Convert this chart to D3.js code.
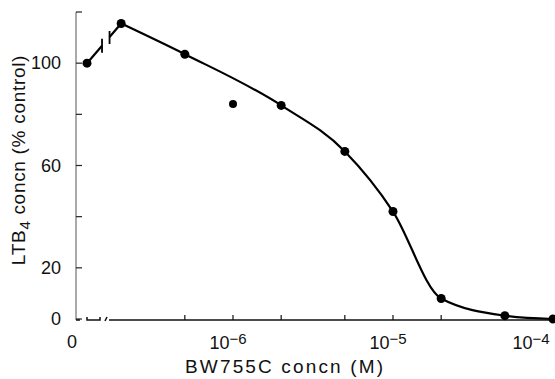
<!DOCTYPE html>
<html>
<head>
<meta charset="utf-8">
<script src="https://cdn.jsdelivr.net/npm/d3@7"></script>
<style>
  html, body { margin: 0; padding: 0; background: #fff; }
  svg { display: block; }
  text { font-family: "Liberation Sans", Arial, sans-serif; fill: #111; }
</style>
</head>
<body>
<div id="chart"></div>
<script>
// BW755C concentration (M), 0 = control
const concentrations = [0, 2e-7, 5e-7, 1e-6, 2e-6, 5e-6, 1e-5, 2e-5, 5e-5, 1e-4];
// LTB4 concentration, % of control
const ltb4Percent = [100, 115.5, 103.5, 84, 83.5, 65.5, 42, 8, 1.3, 0];
// points left off the fitted curve
const offCurve = [1e-6];

const yTicks = [0, 20, 40, 60, 80, 100, 120];
const yTickLabels = [0, 20, 60, 100];
const xTicks = [5e-7, 1e-6, 2e-6, 5e-6, 1e-5, 2e-5, 5e-5, 1e-4];
const xTickLabels = [{ v: 1e-6, exp: "\u22126" }, { v: 1e-5, exp: "\u22125" }, { v: 1e-4, exp: "\u22124" }];

const width = 555, height = 379;
const axisX = 76, axisY = 320, zeroX = 87;

const svg = d3.select("#chart").append("svg")
    .attr("width", width)
    .attr("height", height);

const x = d3.scaleLog().domain([1e-7, 1e-4]).range([73, 553]);
const y = d3.scaleLinear().domain([0, 120]).range([319, 12]);
const xPos = c => (c === 0 ? zeroX : x(c));

const points = concentrations.map((c, i) => ({ c, v: ltb4Percent[i] }));

// y axis
svg.append("line")
    .attr("x1", axisX).attr("x2", axisX)
    .attr("y1", y(120)).attr("y2", axisY)
    .attr("stroke", "#555").attr("stroke-width", 1);

svg.selectAll(".ytick").data(yTicks).enter().append("line")
    .attr("class", "ytick")
    .attr("x1", axisX).attr("x2", axisX + 6)
    .attr("y1", d => y(d)).attr("y2", d => y(d))
    .attr("stroke", "#222").attr("stroke-width", 1.2);

svg.selectAll(".ylabel").data(yTickLabels).enter().append("text")
    .attr("class", "ylabel")
    .attr("x", 61)
    .attr("y", d => y(d) + 6)
    .attr("text-anchor", "end")
    .attr("font-size", 18)
    .text(d => d);

// x axis with break after the control
const xa = svg.append("g").attr("stroke", "#111").attr("stroke-width", 1.5).attr("fill", "none");
xa.append("path").attr("d", `M${axisX},${axisY}H${axisX + 4}`);
xa.append("path").attr("d", `M${zeroX},${axisY - 3}V${axisY}H${zeroX + 13}V${axisY - 3}`);
xa.append("path").attr("d", `M${zeroX + 18},${axisY + 1}L${zeroX + 20},${axisY - 3}`);
xa.append("path").attr("d", `M${zeroX + 22},${axisY}H${width}`);

svg.selectAll(".xtick").data(xTicks).enter().append("line")
    .attr("class", "xtick")
    .attr("x1", d => x(d)).attr("x2", d => x(d))
    .attr("y1", axisY).attr("y2", axisY - 5)
    .attr("stroke", "#111").attr("stroke-width", 1.2);

svg.append("text")
    .attr("x", 72).attr("y", 348)
    .attr("text-anchor", "middle")
    .attr("font-size", 18)
    .text("0");

const xl = svg.selectAll(".xlabel").data(xTickLabels).enter().append("text")
    .attr("class", "xlabel")
    .attr("x", d => Math.min(x(d.v) - 5, width - 24))
    .attr("y", 349)
    .attr("text-anchor", "middle")
    .attr("font-size", 18);
xl.append("tspan").text("10");
xl.append("tspan").attr("dy", -5).attr("font-size", 15).text(d => d.exp);

// axis titles
svg.append("text")
    .attr("x", 185).attr("y", 373)
    .attr("font-size", 19)
    .attr("textLength", 198)
    .attr("lengthAdjust", "spacing")
    .text("BW755C  concn (M)");

const yt = svg.append("text")
    .attr("transform", "translate(25,160) rotate(-90)")
    .attr("text-anchor", "middle")
    .attr("font-size", 19)
    .attr("letter-spacing", 0.7);
yt.append("tspan").text("LTB");
yt.append("tspan").attr("dy", 5).attr("font-size", 15).text("4");
yt.append("tspan").attr("dy", -5).text(" concn (% control)");

// fitted curve
const fitted = points.filter(p => p.c > 0 && !offCurve.includes(p.c));
const line = d3.line()
    .x(p => xPos(p.c))
    .y(p => y(p.v))
    .curve(d3.curveMonotoneX);

svg.append("path")
    .datum(fitted)
    .attr("d", line)
    .attr("fill", "none")
    .attr("stroke", "#000")
    .attr("stroke-width", 2.2);

// broken link from control to first dose
const p0 = points[0], p1 = fitted[0];
const ax = xPos(p0.c), ay = y(p0.v), bx = xPos(p1.c), by = y(p1.v);
const lerp = t => [ax + (bx - ax) * t, ay + (by - ay) * t];
const g1 = lerp(0.44), g2 = lerp(0.66);
svg.append("path")
    .attr("d", `M${ax},${ay}L${g1[0]},${g1[1]}M${g2[0]},${g2[1]}L${bx},${by}`)
    .attr("fill", "none").attr("stroke", "#000").attr("stroke-width", 2.2);
svg.append("path")
    .attr("d", `M${g1[0]},${g1[1] - 7}V${g1[1] + 7}M${g2[0]},${g2[1] - 6}V${g2[1] + 7}`)
    .attr("fill", "none").attr("stroke", "#000").attr("stroke-width", 1.8);

// data points
svg.selectAll(".dot").data(points).enter().append("circle")
    .attr("class", "dot")
    .attr("cx", p => xPos(p.c))
    .attr("cy", p => y(p.v))
    .attr("r", p => (offCurve.includes(p.c) ? 4 : 4.5))
    .attr("fill", "#000");
</script>
</body>
</html>
